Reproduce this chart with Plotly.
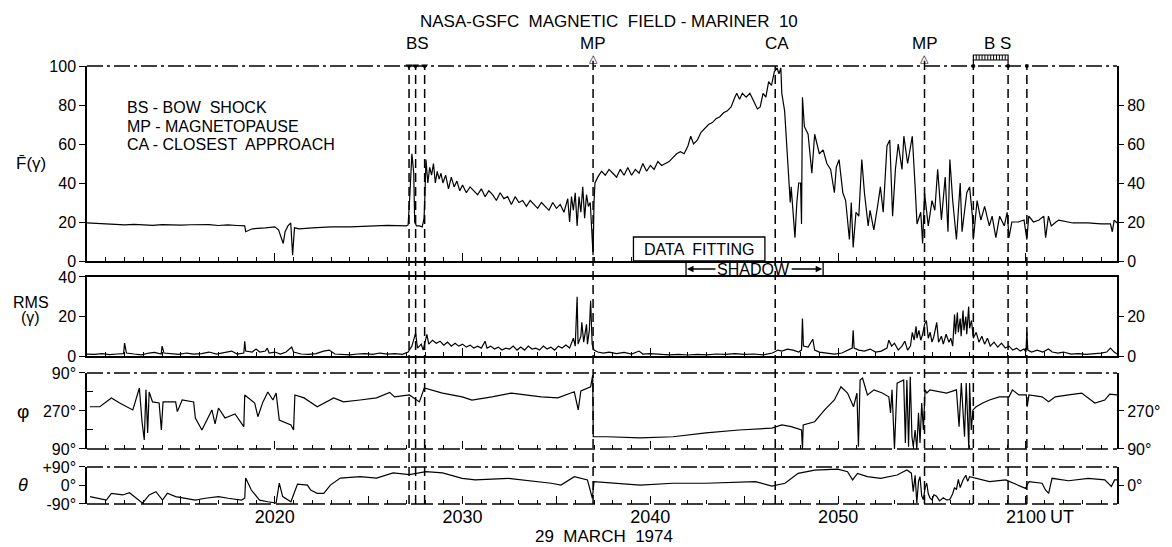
import plotly.graph_objects as go

# ---- data: time in minutes after 2000 UT, 29 March 1974 ----
F_T = [10.0, 10.5, 11.0, 11.5, 12.0, 12.5, 13.0, 13.5, 14.0, 14.5, 15.0, 15.5, 16.0, 16.5, 17.0, 17.5, 18.0, 18.4, 18.45, 18.8,
       19.5, 20.0, 20.2, 20.35, 20.45, 20.55, 20.7, 20.85, 20.95, 21.05, 21.3, 22.0, 23.0, 24.0, 25.0, 26.0, 27.0, 27.1, 27.2, 27.3,
       27.4, 27.45, 27.55, 27.7, 27.85, 27.95, 28.0, 28.05, 28.15, 28.25, 28.35, 28.45, 28.55, 28.65, 28.75, 28.85, 28.95, 29.1, 29.25, 29.4,
       29.55, 29.7, 29.85, 30.0, 30.2, 30.4, 30.6, 30.8, 31.0, 31.2, 31.4, 31.6, 31.8, 32.0, 32.2, 32.4, 32.6, 32.8, 33.0, 33.2,
       33.4, 33.6, 33.8, 34.0, 34.2, 34.4, 34.6, 34.8, 35.0, 35.2, 35.4, 35.6, 35.7, 35.8, 35.9, 36.0, 36.1, 36.2, 36.3, 36.4,
       36.5, 36.6, 36.7, 36.8, 36.9, 36.95, 37.0, 37.05, 37.2, 37.4, 37.6, 37.8, 38.0, 38.2, 38.4, 38.6, 38.8, 39.0, 39.2, 39.4,
       39.6, 39.8, 40.0, 40.2, 40.4, 40.6, 40.8, 41.0, 41.2, 41.4, 41.6, 41.8, 42.0, 42.15, 42.3, 42.5, 42.7, 42.9, 43.1, 43.3,
       43.5, 43.7, 43.9, 44.1, 44.3, 44.5, 44.6, 44.75, 44.9, 45.1, 45.3, 45.5, 45.7, 45.85, 46.0, 46.15, 46.3, 46.45, 46.6, 46.75,
       46.85, 46.95, 47.0, 47.15, 47.26, 47.4, 47.45, 47.5, 47.7, 47.8, 47.9, 48.0, 48.05, 48.1, 48.2, 48.4, 48.6, 48.75, 49.0, 49.2,
       49.4, 49.6, 49.8, 49.9, 50.05, 50.25, 50.4, 50.6, 50.7, 50.8, 50.95, 51.1, 51.26, 51.4, 51.6, 51.7, 51.9, 52.1, 52.25, 52.4,
       52.6, 52.75, 52.9, 53.05, 53.2, 53.4, 53.5, 53.7, 53.95, 54.1, 54.2, 54.4, 54.5, 54.6, 54.8, 55.0, 55.15, 55.3, 55.5, 55.7,
       55.85, 55.95, 56.1, 56.3, 56.5, 56.6, 56.85, 57.0, 57.15, 57.2, 57.4, 57.6, 57.8, 58.05, 58.2, 58.4, 58.6, 58.85, 59.0, 59.1,
       59.25, 59.6, 59.9, 60.05, 60.15, 60.4, 60.7, 60.95, 61.05, 61.2, 61.35, 61.6, 61.75, 62.5, 63.3, 64.0, 64.5, 64.6, 64.7, 64.85]
F_V = [19.5, 19.2, 19.0, 18.8, 18.5, 18.8, 18.6, 18.3, 18.7, 18.5, 18.4, 18.6, 18.8, 18.7, 18.2, 18.5, 18.2, 18.0, 15.0, 16.5,
       17.0, 17.5, 16.0, 12.0, 9.0, 15.0, 18.0, 19.5, 3.0, 17.0, 16.5, 17.0, 17.5, 17.5, 18.0, 18.3, 18.0, 18.5, 35, 55,
       45, 20, 18, 18, 17.5, 22, 35, 52, 40, 48, 44, 50, 40, 46, 42, 45, 40, 44, 37, 43,
       38, 41, 36, 39, 35, 38, 36, 34, 37, 33, 36, 34, 31, 35, 32, 33, 29, 33, 30, 31,
       28, 31, 29, 27, 30, 28, 26, 30, 27, 29, 25, 32, 20, 33, 26, 35, 18, 33, 25, 38,
       22, 34, 28, 30, 8, 3, 30, 40, 43, 46, 44, 47, 45, 43, 47, 44, 48, 44, 47, 45,
       50, 46, 49, 47, 51, 49, 50, 51, 53, 55, 56, 55, 59, 64, 60, 62, 66, 68, 70, 71,
       73, 74, 76, 77, 79, 84, 86, 83, 86, 84, 86, 82, 78, 79, 86, 84, 92, 90, 97, 99,
       96, 99, 86, 77, 60, 40, 30, 38, 12, 30, 40, 40, 19, 84, 69, 65, 45, 65, 55, 57,
       50, 47, 35, 48, 52, 35, 31, 11, 30, 7, 25, 23, 52, 35, 18, 26, 16, 28, 38, 25,
       59, 62, 23, 47, 60, 47, 64, 50, 64, 38, 19, 25, 9, 35, 18, 31, 26, 47, 21, 43,
       15, 52, 31, 11, 40, 15, 35, 38, 23, 11, 31, 21, 28, 18, 23, 12, 23, 18, 25, 12,
       20, 20, 21, 11, 23, 20, 21, 23, 12, 23, 18, 20, 21, 19.5, 19.5, 19.0, 19.0, 15, 21, 19.5]

RMS_T = [10.0, 10.4, 10.8, 11.2, 11.6, 11.95, 12.0, 12.1, 12.5, 12.9, 13.3, 13.6, 13.95, 14.0, 14.1, 14.5, 14.9, 15.3, 15.7, 16.1,
         16.5, 16.9, 17.3, 17.7, 18.0, 18.35, 18.4, 18.45, 18.8, 19.0, 19.2, 19.5, 19.6, 19.7, 20.0, 20.3, 20.6, 20.9, 21.0, 21.4,
         21.8, 22.2, 22.6, 22.9, 23.2, 23.6, 24.0, 24.4, 24.8, 25.2, 25.6, 26.0, 26.4, 26.8, 27.1, 27.3, 27.5, 27.6, 27.8, 27.9,
         28.1, 28.2, 28.4, 28.6, 28.8, 29.0, 29.2, 29.4, 29.6, 29.8, 30.0, 30.2, 30.4, 30.6, 30.8, 31.0, 31.2, 31.3, 31.5, 31.7,
         31.9, 32.1, 32.3, 32.5, 32.7, 32.9, 33.1, 33.3, 33.5, 33.7, 33.9, 34.1, 34.3, 34.5, 34.7, 34.9, 35.1, 35.3, 35.5, 35.7,
         35.9, 36.0, 36.1, 36.15, 36.3, 36.35, 36.45, 36.6, 36.65, 36.75, 36.82, 36.9, 37.0, 37.2, 37.5, 37.8, 38.2, 38.6, 39.0, 39.4,
         39.6, 40.0, 40.5, 41.0, 41.5, 42.0, 42.5, 43.0, 43.5, 44.0, 44.5, 45.0, 45.5, 46.0, 46.5, 46.8, 47.0, 47.3, 47.6, 47.9,
         48.05, 48.1, 48.15, 48.4, 48.65, 48.75, 49.0, 49.4, 49.8, 50.2, 50.5, 50.75, 50.8, 50.85, 51.1, 51.4, 51.7, 52.0, 52.3, 52.6,
         52.7, 52.85, 53.0, 53.2, 53.4, 53.55, 53.7, 53.85, 53.95, 54.05, 54.15, 54.2, 54.3, 54.4, 54.5, 54.6, 54.7, 54.8, 54.9, 55.0,
         55.1, 55.25, 55.35, 55.5, 55.6, 55.75, 55.9, 56.0, 56.1, 56.2, 56.25, 56.35, 56.4, 56.5, 56.55, 56.65, 56.7, 56.8, 56.85, 56.95,
         57.0, 57.1, 57.2, 57.35, 57.5, 57.65, 57.8, 57.95, 58.1, 58.3, 58.5, 58.7, 58.9, 59.1, 59.3, 59.5, 59.7, 59.9, 60.0, 60.05,
         60.1, 60.3, 60.6, 60.9, 61.2, 61.4, 61.7, 62.0, 62.4, 62.8, 63.2, 63.6, 64.0, 64.3, 64.5, 64.7, 64.85]
RMS_V = [1.0, 0.8, 1.2, 0.7, 1.0, 1.2, 6.5, 1.5, 1.0, 0.6, 1.5, 1.8, 1.0, 5.0, 1.5, 1.2, 0.8, 1.5, 1.0, 1.2,
         2.0, 1.0, 1.8, 2.5, 1.0, 1.5, 7.5, 2.5, 2.0, 3.5, 2.0, 2.5, 4.0, 1.5, 2.0, 1.0, 2.0, 4.5, 2.0, 1.0,
         0.8, 1.2, 2.5, 3.0, 1.0, 0.8, 0.6, 1.0, 1.2, 0.8, 1.5, 1.0, 1.2, 0.8, 2.0, 5.0, 11.5, 4.0, 6.0, 3.0,
         11.0, 6.0, 8.0, 6.5, 7.5, 5.5, 7.0, 5.0, 6.5, 5.0, 6.0, 4.5, 5.5, 4.0, 5.0, 4.0, 7.5, 4.0, 5.0, 3.5,
         4.5, 3.0, 4.0, 3.5, 5.0, 3.0, 4.5, 3.0, 5.0, 3.5, 4.0, 3.0, 5.0, 3.5, 4.5, 3.0, 5.0, 4.0, 5.5, 4.0,
         9.0, 5.0, 30.0, 6.0, 10.0, 17.0, 7.0, 16.0, 6.0, 13.0, 28.0, 6.0, 3.0, 2.0, 1.5, 2.0, 1.2, 1.8, 1.0, 2.5,
         1.0, 1.2, 0.8, 0.6, 0.8, 0.5, 0.8, 0.6, 1.0, 0.8, 1.2, 0.8, 1.0, 0.6, 1.5, 3.0, 2.5, 3.5, 3.0, 2.0,
         3.0, 19.0, 5.0, 4.5, 8.5, 3.0, 2.0, 1.5, 1.0, 1.5, 3.0, 4.0, 13.0, 4.0, 3.0, 2.5, 3.5, 2.0, 2.5, 4.0,
         8.0, 5.0, 6.5, 3.0, 5.0, 7.5, 3.0, 5.0, 12.0, 8.0, 15.0, 9.0, 13.0, 8.0, 11.0, 16.0, 18.0, 9.0, 12.0, 7.0,
         10.0, 17.0, 7.0, 10.0, 6.0, 11.0, 7.0, 9.0, 5.0, 21.0, 11.0, 22.0, 12.0, 19.0, 10.0, 23.0, 13.0, 20.0, 11.0, 25.0,
         14.0, 18.0, 9.0, 12.0, 7.0, 10.0, 6.0, 9.0, 5.0, 7.0, 4.5, 6.5, 4.0, 5.0, 3.0, 4.0, 2.5, 3.5, 2.0, 12.0,
         3.0, 2.0, 3.0, 2.0, 3.5, 2.0, 1.5, 2.0, 1.0, 1.2, 0.8, 1.0, 1.5, 2.0, 4.0, 2.0, 1.0]

PHI_T = [10.16, 10.68, 11.3, 11.74, 12.44, 12.79, 12.93, 13.05, 13.14, 13.23, 13.31, 13.49, 13.84, 13.96, 14.05, 14.72, 14.81, 15.07, 15.68, 15.77,
         16.12, 16.38, 16.65, 16.82, 17.0, 17.35, 17.88, 18.35, 18.4, 18.93, 19.1, 19.37, 19.63, 19.9, 20.07, 20.24, 20.86, 21.0, 21.07, 21.56,
         22.26, 23.14, 23.66, 24.54, 25.42, 26.12, 26.38, 27.17, 27.7, 27.96, 28.93, 29.98, 30.5, 31.56, 32.6, 34.19, 35.07, 35.95, 36.16, 36.3,
         36.82, 36.93, 36.96, 37.7, 39.46, 41.21, 42.96, 44.72, 46.47, 47.0, 47.5, 48.05, 48.1, 48.14, 48.75, 49.28, 49.8, 50.15, 50.5, 50.82,
         51.0, 51.08, 51.17, 51.3, 51.56, 51.91, 52.35, 52.7, 52.79, 52.87, 53.0, 53.14, 53.49, 53.58, 53.66, 53.75, 53.84, 53.93, 54.0, 54.1,
         54.19, 54.28, 54.36, 54.45, 54.54, 54.63, 54.72, 54.89, 55.24, 55.77, 56.3, 56.44, 56.56, 56.73, 56.82, 56.96, 57.0, 57.09, 57.18, 57.35,
         57.7, 58.06, 58.58, 59.1, 59.28, 59.63, 60.02, 60.07, 60.16, 60.86, 61.21, 61.56, 62.27, 62.97, 63.67, 64.2, 64.46, 64.72, 64.85]
PHI_V = [290, 290, 332, 308, 275, 379, 219, 133, 370, 166, 360, 313, 308, 180, 313, 313, 267, 322, 313, 237,
         180, 227, 275, 209, 284, 237, 256, 196, 346, 308, 243, 313, 360, 322, 355, 227, 204, 180, 346, 332,
         290, 332, 313, 322, 332, 358, 337, 346, 313, 379, 355, 337, 322, 337, 355, 337, 332, 361, 275, 365,
         385, 440, 148, 148, 143, 148, 166, 180, 189, 204, 196, 180, 90, 204, 219, 275, 322, 385, 355, 290,
         355, 101, 417, 426, 346, 370, 355, 337, 261, 370, 90, 402, 417, 118, 417, 101, 432, 148, 101, 180,
         90, 261, 118, 308, 180, 370, 355, 370, 365, 355, 370, 196, 402, 148, 402, 90, 402, 180, 275, 290,
         308, 322, 337, 337, 370, 346, 346, 290, 346, 337, 314, 337, 346, 355, 308, 322, 350, 346, 346]

TH_T = [10.16, 10.68, 11.03, 11.3, 11.91, 12.26, 12.79, 12.96, 13.31, 13.67, 14.02, 14.28, 14.72, 15.24, 15.77, 16.3, 17.0, 17.52, 18.23, 18.4,
        18.45, 18.75, 19.19, 19.63, 20.07, 20.24, 20.42, 20.86, 21.03, 21.21, 21.74, 21.91, 22.26, 22.61, 22.96, 23.49, 24.54, 25.42, 26.3, 27.17,
        28.05, 28.93, 29.98, 30.68, 32.44, 33.31, 34.72, 35.24, 35.95, 36.65, 36.91, 37.0, 39.46, 41.21, 42.96, 45.6, 46.47, 47.17, 47.87, 48.75,
        49.98, 50.5, 50.77, 51.03, 51.56, 52.26, 53.14, 53.66, 53.9, 54.0, 54.1, 54.19, 54.28, 54.36, 54.45, 54.54, 54.63, 54.72, 54.8, 54.89,
        55.0, 55.1, 55.24, 55.4, 55.6, 55.77, 55.94, 56.1, 56.2, 56.3, 56.4, 56.5, 56.65, 56.8, 56.9, 57.0, 57.35, 58.06, 58.93, 59.63,
        59.98, 60.16, 60.86, 61.04, 61.21, 61.39, 62.27, 63.32, 64.2, 64.55, 64.72, 64.85]
TH_V = [-54, -62, -71, -38, -46, -35, -71, -86, -46, -30, -71, -38, -54, -62, -71, -62, -54, -62, -71, -62,
        36, -22, -71, -79, -86, 12, -54, -79, -38, 7, 2, -22, -38, -38, 2, 36, 43, 36, 61, 53,
        67, 61, 35, 27, 35, 27, 11, 2, 43, 27, -62, 19, 2, 11, 11, 19, -3, 11, 59, 75,
        80, 67, 27, 59, 43, 35, 51, 75, 60, -30, 50, -85, 20, 43, -50, -69, -10, 11, -40, -60,
        -70, -45, -52, -75, -60, -70, -69, -40, -10, -20, 30, -10, 27, 50, 20, 43, 35, 19, 27, 2,
        -14, 19, 11, -22, -38, 35, 23, 35, 27, -5, 27, 27]

# event times (minutes after 2000 UT)
BS_IN = [27.15, 27.5, 27.98]
MP_TIMES = [36.95, 54.6]
CA_TIME = 46.65
BS_OUT = [57.2, 59.05, 60.05]
DATA_FIT = [39.1, 46.1]
SHADOW = [41.9, 49.2]

# tick labels
X_TICKS = [10, 15, 20, 25, 30, 35, 40, 45, 50, 55, 60]
X_TEXT = ['', '', '2020', '', '2030', '', '2040', '', '2050', '', '2100']
F_TICKS = [0, 20, 40, 60, 80, 100]
F_TICKS_R = [0, 20, 40, 60, 80]
RMS_TICKS = [0, 20, 40]
RMS_TICKS_R = [0, 20]
PHI_TICKS = [90, 270, 450]
PHI_TEXT = ['90°', '270°', '90°']
PHI_TICKS_R = [90, 270]
PHI_TEXT_R = ['90°', '270°']
TH_TICKS = [-90, 0, 90]
TH_TEXT = ['-90°', '0°', '+90°']

assert len(F_T) == len(F_V) and len(RMS_T) == len(RMS_V)
assert len(PHI_T) == len(PHI_V) and len(TH_T) == len(TH_V)

FONT = 'Liberation Sans'
D1, D2, D3, D4 = [0.5548, 1.0], [0.3379, 0.5183], [0.1256, 0.2991], [0.0, 0.0845]
XR = [10, 64.85]

fig = go.Figure()
line = dict(color='black', width=1.2)
fig.add_trace(go.Scatter(x=F_T, y=F_V, mode='lines', line=line, xaxis='x', yaxis='y'))
fig.add_trace(go.Scatter(x=RMS_T, y=RMS_V, mode='lines', line=line, xaxis='x2', yaxis='y2'))
fig.add_trace(go.Scatter(x=PHI_T, y=PHI_V, mode='lines', line=line, xaxis='x3', yaxis='y3'))
fig.add_trace(go.Scatter(x=TH_T, y=TH_V, mode='lines', line=line, xaxis='x4', yaxis='y4'))
# invisible traces so the right-hand axes are drawn
for ya, xa in [('y5', 'x'), ('y6', 'x2'), ('y7', 'x3'), ('y8', 'x4')]:
    fig.add_trace(go.Scatter(x=[XR[0]], y=[None], mode='markers', marker=dict(opacity=0),
                             xaxis=xa, yaxis=ya, hoverinfo='skip'))
# little markers at the tops of the bow shock lines
fig.add_trace(go.Scatter(x=BS_OUT, y=[100] * len(BS_OUT), mode='markers', xaxis='x', yaxis='y',
                         marker=dict(symbol='circle', size=4, color='black'), cliponaxis=False))
fig.add_trace(go.Scatter(x=BS_IN, y=[100] * len(BS_IN), mode='markers', xaxis='x', yaxis='y',
                         marker=dict(symbol='triangle-down', size=6, color='black'), cliponaxis=False))

tickfont = dict(family=FONT, size=16, color='black')

def xax(anchor, labels=False, showline=True, mirror=False):
    return dict(domain=[0, 1], range=XR, anchor=anchor, tickvals=X_TICKS, ticktext=X_TEXT,
                ticks='inside', ticklen=8, tickwidth=1.2, tickcolor='black',
                showticklabels=labels, tickfont=dict(family=FONT, size=18, color='black'),
                minor=dict(dtick=1, tick0=10, ticks='inside', ticklen=4, tickcolor='black', tickwidth=1),
                showline=showline, mirror=mirror, linecolor='black', linewidth=1.5,
                showgrid=False, zeroline=False)

def yax(domain, rng, tickvals, ticktext=None, anchor='x'):
    d = dict(domain=domain, range=rng, anchor=anchor, tickvals=tickvals, ticks='outside', ticklen=6,
             tickcolor='black', tickwidth=1.2, tickfont=tickfont, showline=True, mirror=True,
             linecolor='black', linewidth=1.5, showgrid=False, zeroline=False)
    if ticktext is not None:
        d['ticktext'] = ticktext
    return d

def yax_r(over, rng, tickvals, ticktext=None, anchor='x'):
    d = dict(overlaying=over, side='right', range=rng, anchor=anchor, tickvals=tickvals, ticks='outside',
             ticklen=6, tickcolor='black', tickwidth=1.2, tickfont=tickfont, showline=False,
             showgrid=False, zeroline=False)
    if ticktext is not None:
        d['ticktext'] = ticktext
    return d

layout = dict(
    width=1172, height=547, margin=dict(l=87, r=43, t=66, b=43),
    paper_bgcolor='white', plot_bgcolor='white', showlegend=False,
    font=dict(family=FONT, size=16, color='black'),
    xaxis=xax('y'),
    xaxis2=xax('y2', mirror=True),
    xaxis3=xax('y3', showline=False),
    xaxis4=xax('y4', labels=True, showline=False),
    yaxis=yax(D1, [0, 100], F_TICKS, anchor='x'),
    yaxis2=yax(D2, [0, 40], RMS_TICKS, anchor='x2'),
    yaxis3=yax(D3, [90, 450], PHI_TICKS, PHI_TEXT, anchor='x3'),
    yaxis4=yax(D4, [-90, 90], TH_TICKS, TH_TEXT, anchor='x4'),
    yaxis5=yax_r('y', [0, 100], F_TICKS_R, anchor='x'),
    yaxis6=yax_r('y2', [0, 40], RMS_TICKS_R, anchor='x2'),
    yaxis7=yax_r('y3', [90, 450], PHI_TICKS_R, PHI_TEXT_R, anchor='x3'),
    yaxis8=yax_r('y4', [-90, 90], [0], ['0°'], anchor='x4'),
)
layout['yaxis3']['minor'] = dict(tickvals=[180, 360], ticks='inside', ticklen=6, tickcolor='black')
fig.update_layout(**layout)

shapes = []
DASH = '9px,5px'
for t in BS_IN + MP_TIMES + [CA_TIME] + BS_OUT:
    shapes.append(dict(type='line', xref='x', yref='paper', x0=t, x1=t, y0=0, y1=1,
                       line=dict(color='black', width=1.5, dash=DASH)))
# short solid stems from the magnetopause triangles to the frame
for t in MP_TIMES:
    shapes.append(dict(type='line', xref='x', yref='paper', x0=t, x1=t, y0=1.0, y1=1.012,
                       line=dict(color='black', width=1.5)))
DASHDOT = '16px,4px,3px,4px'
for yv in [D1[1], D3[1], D4[1]]:
    shapes.append(dict(type='line', xref='paper', yref='paper', x0=0, x1=1, y0=yv, y1=yv,
                       line=dict(color='black', width=1.3, dash=DASHDOT)))
for yv in [D3[0], D4[0]]:
    shapes.append(dict(type='line', xref='paper', yref='paper', x0=0, x1=1, y0=yv, y1=yv,
                       line=dict(color='black', width=1.3, dash='22px,5px')))
# data fitting box
shapes.append(dict(type='rect', xref='x', yref='paper', x0=DATA_FIT[0], x1=DATA_FIT[1],
                   y0=D1[0], y1=0.6096, line=dict(color='black', width=1.3), fillcolor='white'))
# shadow end bars
for t in SHADOW:
    shapes.append(dict(type='line', xref='x', yref='paper', x0=t, x1=t, y0=D2[1], y1=0.552,
                       line=dict(color='black', width=1.3)))
# hatched bow shock interval bar (above the top frame)
HB0, HB1 = 1.0137, 1.0251
shapes.append(dict(type='rect', xref='x', yref='paper', x0=BS_OUT[0], x1=BS_OUT[1], y0=HB0, y1=HB1,
                   line=dict(color='black', width=1.2)))
nh = 12
for k in range(1, nh):
    xh = BS_OUT[0] + (BS_OUT[1] - BS_OUT[0]) * k / nh
    shapes.append(dict(type='line', xref='x', yref='paper', x0=xh, x1=xh, y0=HB0, y1=HB1,
                       line=dict(color='black', width=1)))
for t in BS_OUT[:2]:
    shapes.append(dict(type='line', xref='x', yref='paper', x0=t, x1=t, y0=1.0, y1=HB0,
                       line=dict(color='black', width=1.2)))
fig.update_layout(shapes=shapes)

ann = []
def A(text, x, y, xref='paper', yref='paper', size=17, xanchor='center', yanchor='middle'):
    ann.append(dict(text=text, x=x, y=y, xref=xref, yref=yref, showarrow=False,
                    xanchor=xanchor, yanchor=yanchor,
                    font=dict(family=FONT, size=size, color='black')))

A('NASA-GSFC  MAGNETIC  FIELD - MARINER  10', 0.507, 1.1005, size=17)
A('BS', 27.6, 1.0525, xref='x')
A('MP', MP_TIMES[0], 1.0525, xref='x')
A('CA', CA_TIME + 0.1, 1.0525, xref='x')
A('MP', MP_TIMES[1], 1.0525, xref='x')
A('B S', 58.5, 1.0525, xref='x')
for t in MP_TIMES:
    ann.append(dict(text='△', x=t, y=1.018, xref='x', yref='paper', showarrow=False,
                    xanchor='center', yanchor='middle',
                    font=dict(family='DejaVu Sans', size=11, color='black')))
A('BS - BOW  SHOCK', 0.0365, 0.906, xanchor='left', size=16)
A('MP - MAGNETOPAUSE', 0.0365, 0.863, xanchor='left', size=16)
A('CA - CLOSEST  APPROACH', 0.0365, 0.820, xanchor='left', size=16)
A('F\u0304(γ)', -0.0547, 0.7785, size=17)
A('RMS', -0.0547, 0.460, size=16)
A('(γ)', -0.0547, 0.4247, size=16)
A('φ', -0.0624, 0.2123, size=19)
A('<i>θ</i>', -0.0624, 0.0434, size=18)
A('DATA  FITTING', (DATA_FIT[0] + DATA_FIT[1]) / 2, 0.582, xref='x', size=16)
A('SHADOW', 45.5, 0.535, xref='x', size=16)
A('UT', 61.9, -0.0297, xref='x', size=18)
A('29  MARCH  1974', 0.502, -0.075, size=17)
for head, off in [(SHADOW[0] + 0.05, 30), (SHADOW[1] - 0.05, -32)]:
    ann.append(dict(text='', x=head, y=0.5365, xref='x', yref='paper', ax=off, ay=0,
                    showarrow=True, arrowhead=2, arrowsize=1, arrowwidth=1.3, arrowcolor='black'))
fig.update_layout(annotations=ann)

fig.write_html('out.html', config={'displayModeBar': False},
               post_script="document.body.style.margin='0';document.body.style.overflow='hidden';")
